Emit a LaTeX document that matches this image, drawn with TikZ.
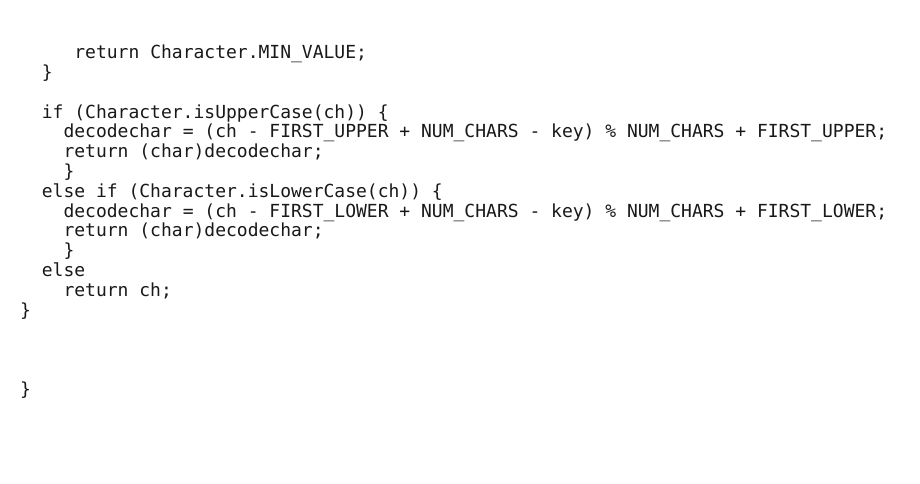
\documentclass[tikz,border=0pt]{standalone}
\usepackage{fontspec}
\setmonofont{DejaVu Sans Mono}
\usetikzlibrary{positioning}
\tikzset{
  code/.style={anchor=base west,inner sep=0pt,font=\ttfamily\fontsize{18}{20}\selectfont,text=black!90},
}
\begin{document}
\begin{tikzpicture}[x=1pt,y=-1pt]
  \useasboundingbox[fill=white] (0,0) rectangle (920,484);
  % column width and line pitch
  \def\cw{10.84}
  \def\lp{19.8}
  \def\by{58.6}
  \node[code] (l0)  at (20+5*\cw,\by+0*\lp)  {return Character.MIN\_VALUE;};
  \node[code] (l1)  at (20+2*\cw,\by+1*\lp)  {\}};
  \node[code] (l3)  at (20+2*\cw,\by+3*\lp)  {if (Character.isUpperCase(ch)) \{};
  \node[code] (l4)  at (20+4*\cw,\by+4*\lp)  {decodechar = (ch - FIRST\_UPPER + NUM\_CHARS - key) \% NUM\_CHARS + FIRST\_UPPER;};
  \node[code] (l5)  at (20+4*\cw,\by+5*\lp)  {return (char)decodechar;};
  \node[code] (l6)  at (20+4*\cw,\by+6*\lp)  {\}};
  \node[code] (l7)  at (20+2*\cw,\by+7*\lp)  {else if (Character.isLowerCase(ch)) \{};
  \node[code] (l8)  at (20+4*\cw,\by+8*\lp)  {decodechar = (ch - FIRST\_LOWER + NUM\_CHARS - key) \% NUM\_CHARS + FIRST\_LOWER;};
  \node[code] (l9)  at (20+4*\cw,\by+9*\lp)  {return (char)decodechar;};
  \node[code] (l10) at (20+4*\cw,\by+10*\lp) {\}};
  \node[code] (l11) at (20+2*\cw,\by+11*\lp) {else};
  \node[code] (l12) at (20+4*\cw,\by+12*\lp) {return ch;};
  \node[code] (l13) at (20,\by+13*\lp)       {\}};
  \node[code] (l17) at (20,\by+17*\lp)       {\}};
\end{tikzpicture}
\end{document}
